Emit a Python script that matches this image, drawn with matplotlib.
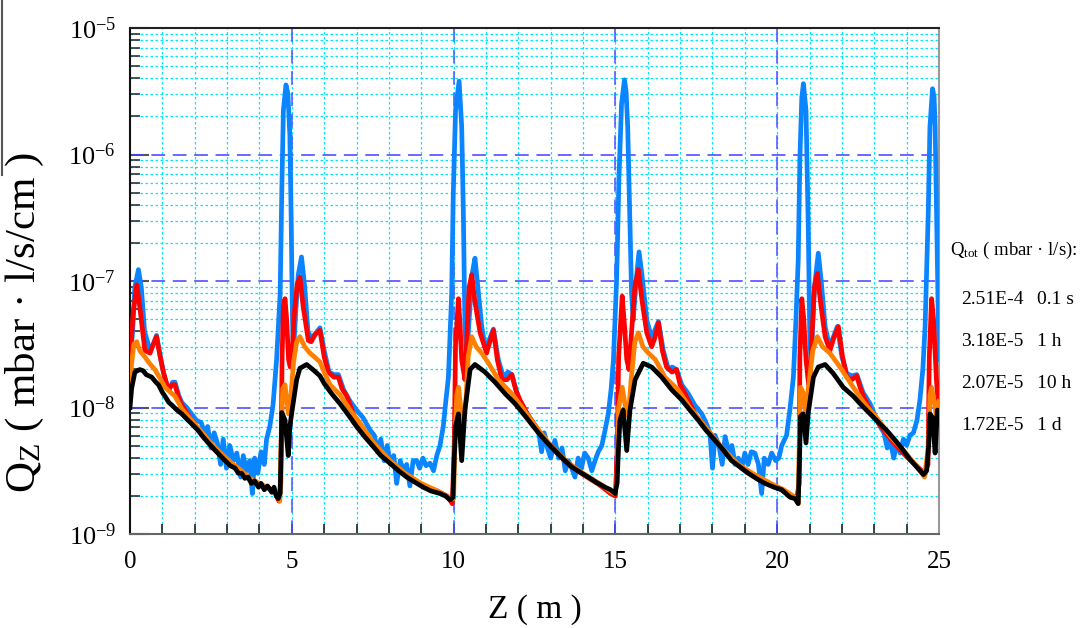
import matplotlib
matplotlib.use("Agg")
import matplotlib.pyplot as plt
from matplotlib.lines import Line2D
from matplotlib.ticker import FixedLocator, NullFormatter, FixedFormatter
import numpy as np

plt.rcParams['font.family'] = ['Liberation Serif', 'DejaVu Serif']
plt.rcParams['mathtext.fontset'] = 'custom'
plt.rcParams['mathtext.rm'] = 'Liberation Serif'
plt.rcParams['mathtext.it'] = 'Liberation Serif:italic'

# log10(Q), per curve
z_blue = [0.0, 0.08, 0.15, 0.26, 0.35, 0.45, 0.62, 0.72, 0.82, 0.95, 1.1, 1.2, 1.32, 1.39, 1.5, 1.6, 1.75,
          1.9, 2.05, 2.2, 2.3, 2.4, 2.5, 2.6, 2.7, 2.8, 2.88, 2.98, 3.08, 3.2, 3.3, 3.42, 3.5, 3.6, 3.7, 3.78,
          3.85, 3.95, 4.05, 4.15, 4.22, 4.32, 4.42, 4.53, 4.64, 4.69, 4.74, 4.82, 4.88, 4.94, 4.98, 5.02, 5.05,
          5.12, 5.2, 5.3, 5.4, 5.5, 5.6, 5.72, 5.87, 6.0, 6.15, 6.3, 6.44, 6.6, 6.8, 7.0, 7.2, 7.42, 7.55,
          7.65, 7.75, 7.85, 7.95, 8.05, 8.15, 8.24, 8.35, 8.45, 8.55, 8.65, 8.75, 8.86, 8.95, 9.05, 9.15, 9.27,
          9.38, 9.48, 9.58, 9.68, 9.76, 9.84, 9.94, 9.99, 10.06, 10.17, 10.25, 10.3, 10.35, 10.4, 10.48, 10.57,
          10.66, 10.75, 10.87, 10.97, 11.05, 11.23, 11.38, 11.54, 11.68, 11.8, 11.95, 12.1, 12.3, 12.45, 12.62,
          12.72, 12.8, 12.9, 13.0, 13.13, 13.25, 13.35, 13.45, 13.55, 13.65, 13.75, 13.85, 13.95, 14.05, 14.16,
          14.27, 14.37, 14.47, 14.58, 14.68, 14.78, 14.87, 14.94, 15.04, 15.11, 15.19, 15.28, 15.33, 15.38,
          15.45, 15.5, 15.55, 15.64, 15.73, 15.82, 15.97, 16.12, 16.33, 16.48, 16.64, 16.75, 16.89, 17.05,
          17.25, 17.45, 17.67, 17.8, 17.92, 18.0, 18.08, 18.2, 18.3, 18.39, 18.5, 18.6, 18.7, 18.8, 18.9, 19.0,
          19.1, 19.2, 19.31, 19.42, 19.52, 19.6, 19.72, 19.83, 19.95, 20.05, 20.14, 20.29, 20.4, 20.5, 20.58,
          20.65, 20.7, 20.76, 20.81, 20.89, 20.96, 21.01, 21.05, 21.15, 21.27, 21.36, 21.48, 21.62, 21.86, 22.0,
          22.15, 22.3, 22.46, 22.65, 22.87, 23.05, 23.18, 23.3, 23.4, 23.49, 23.6, 23.7, 23.8, 23.9, 24.0, 24.1,
          24.21, 24.32, 24.41, 24.5, 24.57, 24.67, 24.72, 24.8, 24.85, 24.88, 24.95, 25.0]
lq_blue = [-7.66, -7.40, -7.05, -6.91, -7.05, -7.40, -7.55, -7.50, -7.43, -7.62, -7.80, -7.86, -7.80, -7.80,
           -7.90, -7.96, -8.00, -8.05, -8.10, -8.12, -8.20, -8.15, -8.32, -8.20, -8.28, -8.45, -8.25, -8.48,
           -8.30, -8.42, -8.36, -8.55, -8.38, -8.50, -8.42, -8.68, -8.40, -8.52, -8.35, -8.45, -8.25, -8.15,
           -7.98, -7.62, -7.10, -6.30, -5.65, -5.45, -5.52, -5.85, -6.50, -7.30, -7.58, -7.25, -6.95, -6.81,
           -7.05, -7.40, -7.45, -7.42, -7.37, -7.55, -7.72, -7.74, -7.74, -7.86, -7.95, -8.02, -8.08, -8.18,
           -8.22, -8.35, -8.25, -8.42, -8.30, -8.45, -8.38, -8.60, -8.42, -8.50, -8.45, -8.62, -8.42, -8.42,
           -8.48, -8.40, -8.46, -8.44, -8.50, -8.38, -8.30, -8.15, -7.95, -7.76, -7.10, -6.31, -5.65, -5.42,
           -5.78, -6.44, -7.36, -7.62, -7.30, -6.95, -6.82, -7.05, -7.36, -7.52, -7.50, -7.38, -7.62, -7.76,
           -7.72, -7.74, -7.88, -7.99, -8.06, -8.12, -8.18, -8.35, -8.20, -8.32, -8.40, -8.26, -8.40, -8.32,
           -8.50, -8.42, -8.48, -8.55, -8.40, -8.48, -8.36, -8.40, -8.50, -8.42, -8.35, -8.30, -8.18, -8.05,
           -7.85, -7.62, -6.97, -6.18, -5.60, -5.41, -5.50, -5.78, -6.57, -7.10, -7.31, -7.00, -6.77, -6.95,
           -7.31, -7.45, -7.32, -7.55, -7.70, -7.68, -7.70, -7.82, -7.89, -7.98, -8.05, -8.12, -8.20, -8.48,
           -8.22, -8.30, -8.45, -8.23, -8.35, -8.30, -8.45, -8.40, -8.48, -8.36, -8.45, -8.35, -8.36, -8.45,
           -8.68, -8.40, -8.45, -8.36, -8.42, -8.40, -8.30, -8.22, -8.00, -7.76, -7.30, -6.83, -6.04, -5.55,
           -5.44, -5.65, -6.57, -7.49, -7.62, -7.05, -6.78, -7.00, -7.36, -7.52, -7.36, -7.60, -7.73, -7.75,
           -7.74, -7.88, -7.97, -8.08, -8.15, -8.20, -8.32, -8.26, -8.40, -8.28, -8.36, -8.25, -8.30, -8.22,
           -8.20, -8.10, -7.94, -7.70, -7.36, -6.44, -5.78, -5.48, -5.55, -5.78, -6.83, -7.62]

z_red = [0.0, 0.1, 0.21, 0.3, 0.46, 0.62, 0.72, 0.82, 0.92, 1.03, 1.19, 1.3, 1.39, 1.5, 1.6, 1.9, 2.2, 2.5,
         2.8, 3.1, 3.4, 3.7, 4.0, 4.3, 4.5, 4.6, 4.66, 4.7, 4.74, 4.79, 4.84, 4.9, 4.95, 5.0, 5.08, 5.17, 5.25,
         5.35, 5.51, 5.6, 5.73, 5.87, 6.0, 6.13, 6.3, 6.44, 6.55, 6.7, 7.0, 7.5, 8.0, 8.5, 9.0, 9.5, 9.8, 9.96,
         10.02, 10.06, 10.15, 10.2, 10.25, 10.35, 10.42, 10.48, 10.56, 10.65, 10.82, 11.02, 11.12, 11.23, 11.35,
         11.49, 11.65, 11.8, 11.92, 12.05, 12.3, 12.62, 13.0, 13.5, 14.0, 14.5, 14.85, 15.0, 15.06, 15.1, 15.21,
         15.28, 15.35, 15.42, 15.5, 15.6, 15.71, 15.82, 15.97, 16.12, 16.22, 16.33, 16.45, 16.58, 16.75, 16.89,
         17.0, 17.15, 17.5, 18.0, 18.5, 19.0, 19.5, 20.0, 20.3, 20.6, 20.68, 20.7, 20.76, 20.82, 20.89, 21.0,
         21.06, 21.15, 21.24, 21.33, 21.48, 21.63, 21.75, 21.89, 22.02, 22.15, 22.3, 22.46, 22.56, 22.66, 23.0,
         23.5, 24.0, 24.3, 24.55, 24.66, 24.7, 24.77, 24.83, 24.92, 24.97, 25.0]
lq_red = [-7.62, -7.25, -7.03, -7.20, -7.55, -7.57, -7.50, -7.44, -7.58, -7.72, -7.86, -7.82, -7.82, -7.92,
          -7.98, -8.10, -8.20, -8.30, -8.38, -8.45, -8.50, -8.57, -8.61, -8.64, -8.68, -8.74, -8.60, -7.60,
          -7.20, -7.14, -7.30, -7.62, -7.68, -7.62, -7.25, -7.02, -6.97, -7.20, -7.47, -7.48, -7.42, -7.39,
          -7.60, -7.72, -7.76, -7.76, -7.85, -7.91, -8.12, -8.29, -8.42, -8.53, -8.61, -8.66, -8.70, -8.76,
          -8.30, -7.50, -7.14, -7.35, -7.62, -7.78, -7.40, -7.05, -6.95, -7.15, -7.41, -7.57, -7.48, -7.39,
          -7.62, -7.78, -7.78, -7.74, -7.86, -7.94, -8.06, -8.18, -8.31, -8.44, -8.53, -8.61, -8.68, -8.70,
          -8.30, -7.60, -7.12, -7.35, -7.62, -7.70, -7.40, -7.05, -6.91, -7.15, -7.41, -7.52, -7.45, -7.33,
          -7.55, -7.68, -7.72, -7.70, -7.82, -7.89, -8.07, -8.23, -8.39, -8.50, -8.58, -8.63, -8.68, -8.72,
          -8.60, -7.60, -7.14, -7.30, -7.62, -7.89, -7.50, -7.05, -6.94, -7.15, -7.44, -7.55, -7.45, -7.36,
          -7.60, -7.76, -7.78, -7.75, -7.84, -7.91, -8.08, -8.25, -8.39, -8.46, -8.52, -8.45, -7.60, -7.14,
          -7.30, -7.78, -7.95, -7.90]

z_orange = [0.0, 0.05, 0.12, 0.21, 0.3, 0.46, 0.6, 0.77, 0.95, 1.08, 1.25, 1.39, 1.6, 1.9, 2.2, 2.5, 2.8,
            3.1, 3.4, 3.7, 4.0, 4.3, 4.5, 4.63, 4.67, 4.72, 4.79, 4.85, 4.9, 4.96, 5.05, 5.15, 5.25, 5.4, 5.56,
            5.7, 5.87, 6.0, 6.18, 6.49, 6.8, 7.1, 7.5, 8.0, 8.5, 9.0, 9.5, 9.9, 10.0, 10.05, 10.1, 10.15, 10.22,
            10.3, 10.38, 10.45, 10.56, 10.7, 10.87, 11.08, 11.38, 11.8, 12.2, 12.6, 13.0, 13.5, 14.0, 14.5,
            14.95, 15.05, 15.1, 15.21, 15.3, 15.4, 15.48, 15.6, 15.71, 15.85, 16.02, 16.23, 16.53, 16.94, 17.3,
            17.8, 18.3, 18.8, 19.3, 19.8, 20.2, 20.5, 20.65, 20.68, 20.72, 20.8, 20.89, 20.96, 21.1, 21.24, 21.4,
            21.63, 21.94, 22.35, 22.7, 23.1, 23.5, 23.9, 24.3, 24.55, 24.68, 24.72, 24.77, 24.85, 24.92, 25.0]
lq_orange = [-7.88, -7.65, -7.50, -7.48, -7.55, -7.60, -7.65, -7.70, -7.78, -7.84, -7.88, -7.91, -8.01,
             -8.10, -8.19, -8.28, -8.36, -8.43, -8.49, -8.56, -8.60, -8.64, -8.68, -8.74, -8.30, -7.85, -7.82,
             -7.95, -8.05, -7.95, -7.65, -7.48, -7.44, -7.52, -7.57, -7.60, -7.64, -7.72, -7.82, -7.90, -8.02,
             -8.12, -8.27, -8.41, -8.52, -8.60, -8.66, -8.72, -8.72, -8.20, -7.90, -7.84, -8.00, -8.15, -7.95,
             -7.60, -7.44, -7.52, -7.57, -7.65, -7.78, -7.89, -8.03, -8.17, -8.30, -8.43, -8.52, -8.60, -8.68,
             -8.60, -8.00, -7.84, -7.98, -8.07, -7.80, -7.48, -7.41, -7.52, -7.57, -7.62, -7.76, -7.86, -8.00,
             -8.16, -8.32, -8.45, -8.53, -8.60, -8.65, -8.70, -8.76, -8.30, -7.84, -7.88, -8.05, -7.86, -7.55,
             -7.44, -7.52, -7.57, -7.68, -7.84, -7.97, -8.09, -8.23, -8.34, -8.46, -8.55, -8.30, -7.90, -7.84,
             -7.95, -8.07, -7.95]

z_black = [0.0, 0.05, 0.15, 0.3, 0.41, 0.5, 0.67, 0.8, 0.88, 1.0, 1.08, 1.2, 1.29, 1.45, 1.6, 1.75, 1.91,
           2.1, 2.25, 2.42, 2.6, 2.75, 2.94, 3.1, 3.25, 3.35, 3.45, 3.55, 3.65, 3.75, 3.85, 3.97, 4.05, 4.15,
           4.25, 4.38, 4.45, 4.52, 4.58, 4.64, 4.67, 4.69, 4.79, 4.86, 4.89, 4.94, 5.0, 5.15, 5.25, 5.46, 5.65,
           5.87, 6.0, 6.23, 6.49, 6.75, 7.0, 7.25, 7.52, 7.75, 8.03, 8.3, 8.55, 8.8, 9.06, 9.3, 9.58, 9.75, 9.89,
           9.98, 10.02, 10.06, 10.15, 10.25, 10.35, 10.51, 10.66, 10.97, 11.28, 11.59, 11.9, 12.25, 12.62, 12.9,
           13.13, 13.4, 13.65, 13.9, 14.16, 14.4, 14.68, 14.85, 14.99, 15.05, 15.1, 15.14, 15.24, 15.35, 15.45,
           15.61, 15.86, 16.12, 16.43, 16.74, 17.05, 17.3, 17.56, 17.8, 18.08, 18.35, 18.59, 18.85, 19.11, 19.35,
           19.62, 19.9, 20.14, 20.4, 20.55, 20.65, 20.69, 20.72, 20.8, 20.89, 20.96, 21.12, 21.27, 21.48, 21.73,
           22.04, 22.35, 22.6, 22.87, 23.1, 23.38, 23.65, 23.9, 24.1, 24.31, 24.52, 24.62, 24.68, 24.72, 24.8,
           24.88, 24.95, 25.0]
lq_black = [-8.00, -7.85, -7.72, -7.70, -7.71, -7.74, -7.76, -7.80, -7.82, -7.88, -7.91, -7.96, -7.98,
            -8.02, -8.05, -8.09, -8.13, -8.18, -8.23, -8.28, -8.33, -8.37, -8.42, -8.46, -8.48, -8.52, -8.52,
            -8.56, -8.55, -8.60, -8.58, -8.63, -8.60, -8.65, -8.62, -8.67, -8.63, -8.70, -8.72, -8.68, -8.35,
            -8.04, -8.10, -8.30, -8.38, -8.15, -8.04, -7.78, -7.69, -7.66, -7.70, -7.75, -7.81, -7.89, -7.97,
            -8.06, -8.15, -8.23, -8.31, -8.38, -8.44, -8.50, -8.55, -8.59, -8.63, -8.66, -8.68, -8.70, -8.73,
            -8.71, -8.40, -8.15, -8.05, -8.42, -8.02, -7.70, -7.66, -7.72, -7.80, -7.89, -7.97, -8.08, -8.20,
            -8.28, -8.34, -8.41, -8.47, -8.51, -8.55, -8.59, -8.63, -8.65, -8.68, -8.60, -8.30, -8.10, -8.02,
            -8.34, -8.02, -7.78, -7.65, -7.68, -7.76, -7.86, -7.94, -8.02, -8.10, -8.18, -8.26, -8.34, -8.42,
            -8.47, -8.52, -8.56, -8.60, -8.63, -8.65, -8.71, -8.72, -8.76, -8.40, -8.07, -8.05, -8.28, -8.04,
            -7.76, -7.68, -7.66, -7.73, -7.84, -7.91, -7.98, -8.05, -8.11, -8.18, -8.26, -8.34, -8.41, -8.47,
            -8.53, -8.50, -8.30, -8.05, -8.08, -8.36, -8.02, -8.08]

q_tot = ['2.51E-4', '3.18E-5', '2.07E-5', '1.72E-5']
t_pump = ['0.1 s', '1 h', '10 h', '1 d']

curves = [(z_blue, lq_blue, '#0a84ff'), (z_red, lq_red, '#ff0000'),
          (z_orange, lq_orange, '#ff8000'), (z_black, lq_black, '#000000')]

fig = plt.figure(figsize=(10.82, 6.28), dpi=100)
ax = fig.add_axes([130/1082, 1-534/628, 809/1082, 506/628])

for z, lq, c in curves:
    ax.plot(z, 10**np.array(lq), color=c, lw=3.4, solid_joinstyle='round', zorder=3)

ax.set_yscale('log')
ax.set_xlim(0, 25)
ax.set_ylim(1e-9, 1e-5)

# grid: cyan dotted, blue dashed on decades / every 5 m
for xv in range(1, 25):
    ax.axvline(xv, color='#00e8ff', ls=(0, (2, 2)), lw=0.9, zorder=1)
for d in range(-9, -5):
    for m in range(2, 10):
        ax.axhline(m*10.0**d, color='#00e8ff', ls=(0, (2, 2)), lw=0.9, zorder=1)
for xv in [5, 10, 15, 20]:
    ax.axvline(xv, color='#5050ff', ls=(0, (9, 5)), lw=1.1, zorder=2)
for d in [-6, -7, -8]:
    ax.axhline(10.0**d, color='#4040ff', ls=(0, (9, 5)), lw=1.1, zorder=2)

ax.xaxis.set_major_locator(FixedLocator([0, 5, 10, 15, 20, 25]))
ax.xaxis.set_minor_locator(FixedLocator(range(26)))
ax.yaxis.set_major_locator(FixedLocator([1e-9, 1e-8, 1e-7, 1e-6, 1e-5]))
ax.yaxis.set_major_formatter(FixedFormatter([r'$\mathregular{10^{-%d}}$' % k for k in [9, 8, 7, 6, 5]]))
ax.yaxis.set_minor_locator(FixedLocator([m*10.0**d for d in range(-9, -5) for m in range(2, 10)]))
ax.yaxis.set_minor_formatter(NullFormatter())
ax.tick_params(axis='x', which='both', direction='in', length=7, width=1.2, colors='#222', labelsize=18, pad=12,
               top=False)
ax.tick_params(axis='y', which='major', direction='in', length=14, width=1.5, colors='#555', labelsize=19,
               pad=10, labelcolor='black', right=False)
ax.tick_params(axis='y', which='minor', direction='in', length=7, width=1.2, colors='#333', right=False)
ax.tick_params(axis='x', labelcolor='black')

for s in ax.spines.values():
    s.set_linewidth(1.5)
ax.spines['left'].set_color('#111')
ax.spines['bottom'].set_color('#666')
ax.spines['right'].set_color('#999')
ax.spines['top'].set_color('#222')

ax.set_xlabel('Z ( m )', fontsize=24)
ax.xaxis.set_label_coords(0.5, -0.118)
ax.set_ylabel(r'Q$_\mathregular{Z}$ ( mbar · l/s/cm )', fontsize=31)
ax.yaxis.set_label_coords(-0.104, 0.417)

fig.text(950/1082, 1-250/628, r'Q$_\mathregular{tot}$ ( mbar · l/s):', fontsize=13.5, va='center')
for i, (q, t) in enumerate(zip(q_tot, t_pump)):
    y = 1 - (299 + i*42)/628
    fig.text(961/1082, y, q, fontsize=14, va='center')
    fig.text(1037/1082, y, t, fontsize=14, va='center')

fig.add_artist(Line2D([0.0015, 0.0015], [1, 1-175/628], color='#555', lw=1.5))

fig.savefig('out.png', dpi=100)
